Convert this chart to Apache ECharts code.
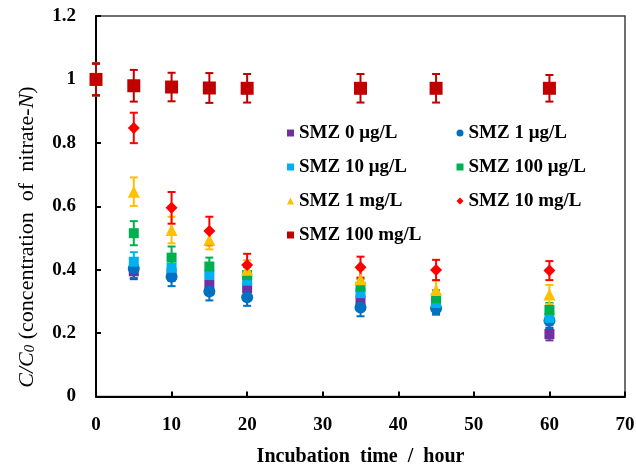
<!DOCTYPE html>
<html>
<head>
<meta charset="utf-8">
<script src="https://cdn.jsdelivr.net/npm/echarts@6/dist/echarts.min.js"></script>
<style>
  html, body { margin: 0; padding: 0; background: #fff; }
  #chart { width: 636px; height: 467px; }
</style>
</head>
<body>
<div id="chart"></div>
<script>
// Incubation times (hours)
const times = [0, 5, 10, 15, 20, 35, 45, 60];

// C/C0 of nitrate-N for each SMZ dose
const smz0ug   = [1.0, 0.395, 0.390, 0.352, 0.342, 0.304, 0.285, 0.197];
const smz1ug   = [1.0, 0.404, 0.378, 0.331, 0.313, 0.281, 0.278, 0.239];
const smz10ug  = [1.0, 0.425, 0.406, 0.383, 0.365, 0.326, 0.295, 0.248];
const smz100ug = [1.0, 0.515, 0.438, 0.410, 0.383, 0.346, 0.310, 0.273];
const smz1mg   = [1.0, 0.646, 0.525, 0.494, 0.400, 0.370, 0.336, 0.322];
const smz10mg  = [1.0, 0.847, 0.595, 0.522, 0.415, 0.408, 0.399, 0.397];
const smz100mg = [1.0, 0.980, 0.976, 0.973, 0.972, 0.972, 0.972, 0.972];

// Standard deviations (error bar half-lengths)
const err0ug   = [0.05, 0.025, 0.025, 0.022, 0.022, 0.022, 0.022, 0.020];
const err1ug   = [0.05, 0.030, 0.030, 0.028, 0.027, 0.028, 0.020, 0.025];
const err10ug  = [0.05, 0.030, 0.028, 0.025, 0.025, 0.025, 0.022, 0.022];
const err100ug = [0.05, 0.038, 0.035, 0.028, 0.025, 0.025, 0.025, 0.022];
const err1mg   = [0.05, 0.045, 0.042, 0.030, 0.030, 0.030, 0.030, 0.030];
const err10mg  = [0.05, 0.048, 0.050, 0.045, 0.035, 0.033, 0.032, 0.030];
const err100mg = [0.05, 0.050, 0.045, 0.047, 0.045, 0.045, 0.045, 0.042];

// Axis ticks
const xTicks = [0, 10, 20, 30, 40, 50, 60, 70];
const yTicks = [0, 0.2, 0.4, 0.6, 0.8, 1, 1.2];

const groups = [
  { name: 'SMZ 0 μg/L',   values: smz0ug,   errs: err0ug,   color: '#7030A0', symbol: 'rect',     size: 10 },
  { name: 'SMZ 1 μg/L',   values: smz1ug,   errs: err1ug,   color: '#0070C0', symbol: 'circle',   size: 12 },
  { name: 'SMZ 10 μg/L',  values: smz10ug,  errs: err10ug,  color: '#00B0F0', symbol: 'rect',     size: 10 },
  { name: 'SMZ 100 μg/L', values: smz100ug, errs: err100ug, color: '#00B050', symbol: 'rect',     size: 10 },
  { name: 'SMZ 1 mg/L',   values: smz1mg,   errs: err1mg,   color: '#FFC000', symbol: 'triangle', size: 12 },
  { name: 'SMZ 10 mg/L',  values: smz10mg,  errs: err10mg,  color: '#FF0000', symbol: 'diamond',  size: 12 },
  { name: 'SMZ 100 mg/L', values: smz100mg, errs: err100mg, color: '#C00000', symbol: 'rect',     size: 13 }
];

const FONT = 'Liberation Serif';

function errorBars(g, idx) {
  return {
    type: 'custom',
    name: 'err-' + idx,
    silent: true,
    data: times.map((t, i) => [t, g.values[i] - g.errs[i], g.values[i] + g.errs[i]]),
    encode: { x: 0, y: [1, 2] },
    renderItem: function (params, api) {
      const x = api.value(0);
      const lo = api.coord([x, api.value(1)]);
      const hi = api.coord([x, api.value(2)]);
      const hw = 4;
      const style = { stroke: g.color, lineWidth: 2 };
      return {
        type: 'group',
        children: [
          { type: 'line', shape: { x1: lo[0], y1: lo[1], x2: hi[0], y2: hi[1] }, style: style },
          { type: 'line', shape: { x1: lo[0] - hw, y1: lo[1], x2: lo[0] + hw, y2: lo[1] }, style: style },
          { type: 'line', shape: { x1: hi[0] - hw, y1: hi[1], x2: hi[0] + hw, y2: hi[1] }, style: style }
        ]
      };
    }
  };
}

const series = [];
groups.forEach((g, idx) => {
  series.push(errorBars(g, idx));
  series.push({
    type: 'scatter',
    name: g.name,
    symbol: g.symbol,
    symbolSize: g.size,
    itemStyle: { color: g.color, opacity: 1 },
    data: times.map((t, i) => [t, g.values[i]])
  });
});

const legendText = { fontFamily: FONT, fontWeight: 'bold', fontSize: 19, color: '#000', lineHeight: 20 };

const option = {
  animation: false,
  backgroundColor: '#fff',
  grid: {
    left: 96, right: 11, top: 16, bottom: 70.5,
    outerBoundsMode: 'none',
    containLabel: false,
    show: true, borderColor: '#404040', borderWidth: 1.5, backgroundColor: 'transparent'
  },
  legend: [
    {
      data: [groups[0].name, groups[2].name, groups[4].name, groups[6].name],
      orient: 'vertical', left: 287, top: 123,
      itemWidth: 7, itemHeight: 7, itemGap: 14,
      textStyle: legendText, padding: 0
    },
    {
      data: [groups[1].name, groups[3].name, groups[5].name],
      orient: 'vertical', left: 456.5, top: 123,
      itemWidth: 7, itemHeight: 7, itemGap: 14,
      textStyle: legendText, padding: 0
    }
  ],
  // Rotated y-axis title with italic C/C0 and subscript
  graphic: [
    {
      type: 'text',
      x: 27, y: 237,
      rotation: Math.PI / 2,
      style: {
        text: '{i|C/C}{s|0}{n| (concentration  of  nitrate-}{i|N}{n|)}',
        align: 'center', verticalAlign: 'middle',
        fill: '#000',
        rich: {
          i: { fontFamily: FONT, fontSize: 22, fontStyle: 'italic', fill: '#000' },
          s: { fontFamily: FONT, fontSize: 15, fontStyle: 'italic', fill: '#000', verticalAlign: 'bottom' },
          n: { fontFamily: FONT, fontSize: 22, fill: '#000' }
        }
      }
    }
  ],
  xAxis: {
    type: 'value',
    min: xTicks[0], max: xTicks[xTicks.length - 1], interval: 10,
    name: 'Incubation  time  /  hour',
    nameLocation: 'middle', nameGap: 50,
    nameTextStyle: { fontFamily: FONT, fontWeight: 'bold', fontSize: 20, color: '#000' },
    axisLine: { show: true, lineStyle: { color: '#000', width: 2 } },
    axisTick: { show: true, inside: true, length: 5, lineStyle: { color: '#000', width: 2 } },
    axisLabel: { margin: 19, fontFamily: FONT, fontWeight: 'bold', fontSize: 19, color: '#000' },
    splitLine: { show: false }
  },
  yAxis: {
    type: 'value',
    min: yTicks[0], max: yTicks[yTicks.length - 1], interval: 0.2,
    axisLine: { show: true, lineStyle: { color: '#000', width: 2 } },
    axisTick: { show: true, inside: true, length: 5, lineStyle: { color: '#000', width: 2 } },
    axisLabel: {
      margin: 20, fontFamily: FONT, fontWeight: 'bold', fontSize: 19, color: '#000',
      formatter: v => String(Math.round(v * 10) / 10)
    },
    splitLine: { show: false }
  },
  series: series
};

const chart = echarts.init(document.getElementById('chart'), null, { renderer: 'canvas' });
chart.setOption(option);
</script>
</body>
</html>
